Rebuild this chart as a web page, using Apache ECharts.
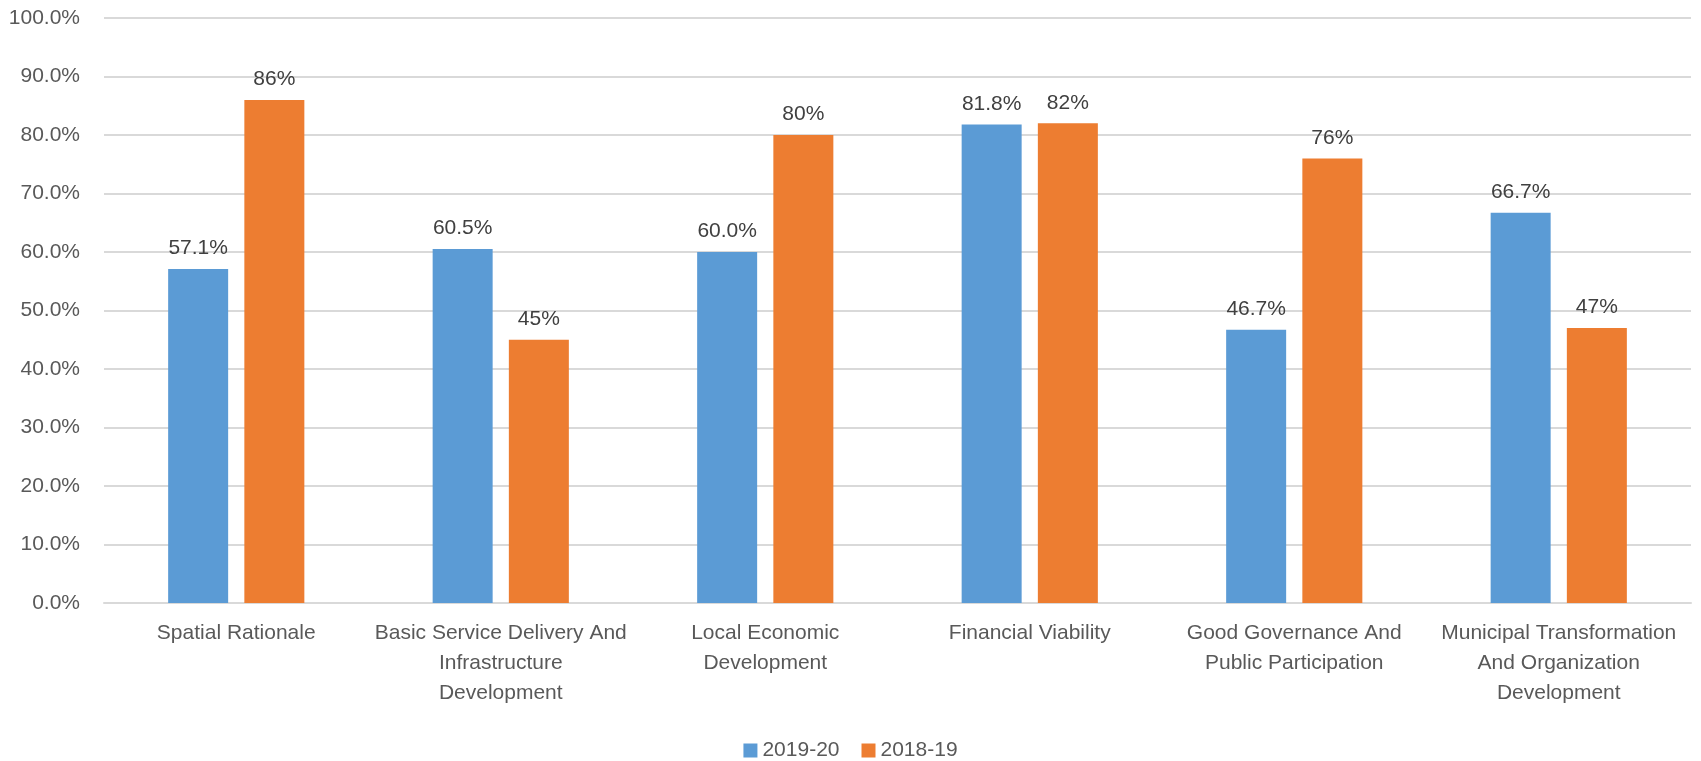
<!DOCTYPE html>
<html>
<head>
<meta charset="utf-8">
<script src="https://cdn.jsdelivr.net/npm/echarts@6/dist/echarts.min.js"></script>
<style>html,body{margin:0;padding:0;background:#fff}#c{width:1701px;height:761px}</style>
</head>
<body>
<div id="c"></div>
<script>
const categories = [
  'Spatial Rationale',
  'Basic Service Delivery And\nInfrastructure\nDevelopment',
  'Local Economic\nDevelopment',
  'Financial Viability',
  'Good Governance And\nPublic Participation',
  'Municipal Transformation\nAnd Organization\nDevelopment'
];
const series2019 = [57.1, 60.5, 60.0, 81.8, 46.7, 66.7];
const series2018 = [86, 45, 80, 82, 76, 47];
const yTicks = { min: 0, max: 100, interval: 10 };

const FONT = 'Liberation Sans';
const chart = echarts.init(document.getElementById('c'));
chart.setOption({
  animation: false,
  textStyle: { fontFamily: FONT },
  grid: { left: 104, right: 10, top: 18, bottom: 158 },
  legend: {
    top: 735, left: 'center',
    itemWidth: 14, itemHeight: 14, itemGap: 22,
    icon: 'rect',
    textStyle: { fontFamily: FONT, fontSize: 21, color: '#595959' },
    data: ['2019-20', '2018-19']
  },
  xAxis: {
    type: 'category',
    data: categories,
    axisLine: { lineStyle: { color: '#d9d9d9', width: 2 } },
    axisTick: { show: false },
    axisLabel: { interval: 0, margin: 15, lineHeight: 30, fontSize: 21, color: '#595959', fontFamily: FONT }
  },
  yAxis: {
    type: 'value',
    min: yTicks.min, max: yTicks.max, interval: yTicks.interval,
    axisLine: { show: false },
    axisTick: { show: false },
    splitLine: { lineStyle: { color: '#d9d9d9', width: 2 } },
    axisLabel: { margin: 24, fontSize: 21, color: '#595959', fontFamily: FONT, formatter: v => v.toFixed(1) + '%' }
  },
  series: [
    {
      name: '2019-20', type: 'bar', data: series2019,
      barWidth: 60, barGap: '27%',
      itemStyle: { color: '#5b9bd5' },
      label: { show: true, position: 'top', distance: 10, fontSize: 21, color: '#404040', fontFamily: FONT,
        formatter: p => p.value.toFixed(1) + '%' }
    },
    {
      name: '2018-19', type: 'bar', data: series2018,
      barWidth: 60, barGap: '27%',
      itemStyle: { color: '#ed7d31' },
      label: { show: true, position: 'top', distance: 10, fontSize: 21, color: '#404040', fontFamily: FONT,
        formatter: p => p.value.toFixed(0) + '%' }
    }
  ]
});
</script>
</body>
</html>
